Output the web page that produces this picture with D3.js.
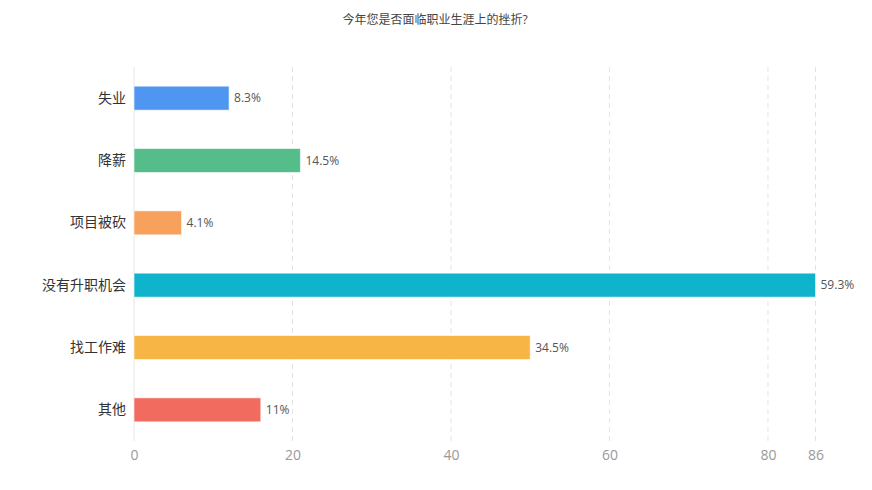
<!DOCTYPE html>
<html>
<head>
<meta charset="utf-8">
<script src="https://cdn.jsdelivr.net/npm/d3@7"></script>
<style>
  body { margin: 0; background: #fff; }
  svg { display: block; font-family: "Open Sans", "Noto Sans CJK SC", sans-serif; }
  .grid line { stroke: #e3e3e3; stroke-dasharray: 5,4; }
  .bar { stroke: rgba(255,255,255,0.6); stroke-width: 1px; }
</style>
</head>
<body>
<svg width="872" height="490"></svg>
<script>
// chart data
const title = "今年您是否面临职业生涯上的挫折?";
const categories = ["失业", "降薪", "项目被砍", "没有升职机会", "找工作难", "其他"];
const values = [12, 21, 6, 86, 50, 16];
const valueLabels = ["8.3%", "14.5%", "4.1%", "59.3%", "34.5%", "11%"];
const colors = ["#4e96f0", "#55bd89", "#f8a15c", "#10b3cc", "#f6b545", "#f16b5e"];
const xTicks = [0, 20, 40, 60, 80, 86];

const svg = d3.select("svg");
const plotLeft = 134, plotRight = 815.5, plotTop = 67, plotBottom = 441;

const x = d3.scaleLinear().domain([0, 86]).range([plotLeft, plotRight]);
const y = d3.scaleBand().domain(categories).range([plotTop, plotBottom])
  .paddingInner(0.615).paddingOuter(0.3075);

svg.append("text")
  .attr("x", 435).attr("y", 24)
  .attr("text-anchor", "middle")
  .attr("font-size", 12)
  .attr("fill", "#444")
  .text(title);

// dashed grid
const grid = svg.append("g").attr("class", "grid");
grid.selectAll("line")
  .data(xTicks.filter(d => d > 0))
  .enter().append("line")
  .attr("x1", d => x(d)).attr("x2", d => x(d))
  .attr("y1", plotTop).attr("y2", plotBottom);

// baseline at 0
svg.append("line")
  .attr("x1", x(0)).attr("x2", x(0))
  .attr("y1", plotTop).attr("y2", plotBottom)
  .attr("stroke", "#e6e6e6");

// x axis labels
const xAxis = svg.append("g")
  .attr("transform", `translate(0,${plotBottom})`)
  .call(d3.axisBottom(x).tickValues(xTicks).tickSize(0).tickPadding(9));
xAxis.select(".domain").remove();
xAxis.selectAll("text")
  .attr("font-size", 14)
  .attr("fill", "#999")
  .attr("font-family", "'Open Sans', sans-serif");

// y axis labels
const yAxis = svg.append("g")
  .attr("transform", `translate(${plotLeft},0)`)
  .call(d3.axisLeft(y).tickSize(0).tickPadding(8));
yAxis.select(".domain").remove();
yAxis.selectAll("text")
  .attr("font-size", 14)
  .attr("fill", "#333")
  .attr("font-family", "'Noto Sans CJK SC', sans-serif");

// bars
svg.selectAll(".bar")
  .data(categories)
  .enter().append("rect")
  .attr("class", "bar")
  .attr("x", x(0))
  .attr("y", d => y(d))
  .attr("width", (d, i) => x(values[i]) - x(0))
  .attr("height", y.bandwidth())
  .attr("fill", (d, i) => colors[i]);

// value labels
svg.selectAll(".val")
  .data(categories)
  .enter().append("text")
  .attr("class", "val")
  .attr("x", (d, i) => x(values[i]) + 5)
  .attr("y", d => y(d) + y.bandwidth() / 2)
  .attr("dy", "0.35em")
  .attr("font-size", 12)
  .attr("fill", "#555")
  .text((d, i) => valueLabels[i]);
</script>
</body>
</html>
